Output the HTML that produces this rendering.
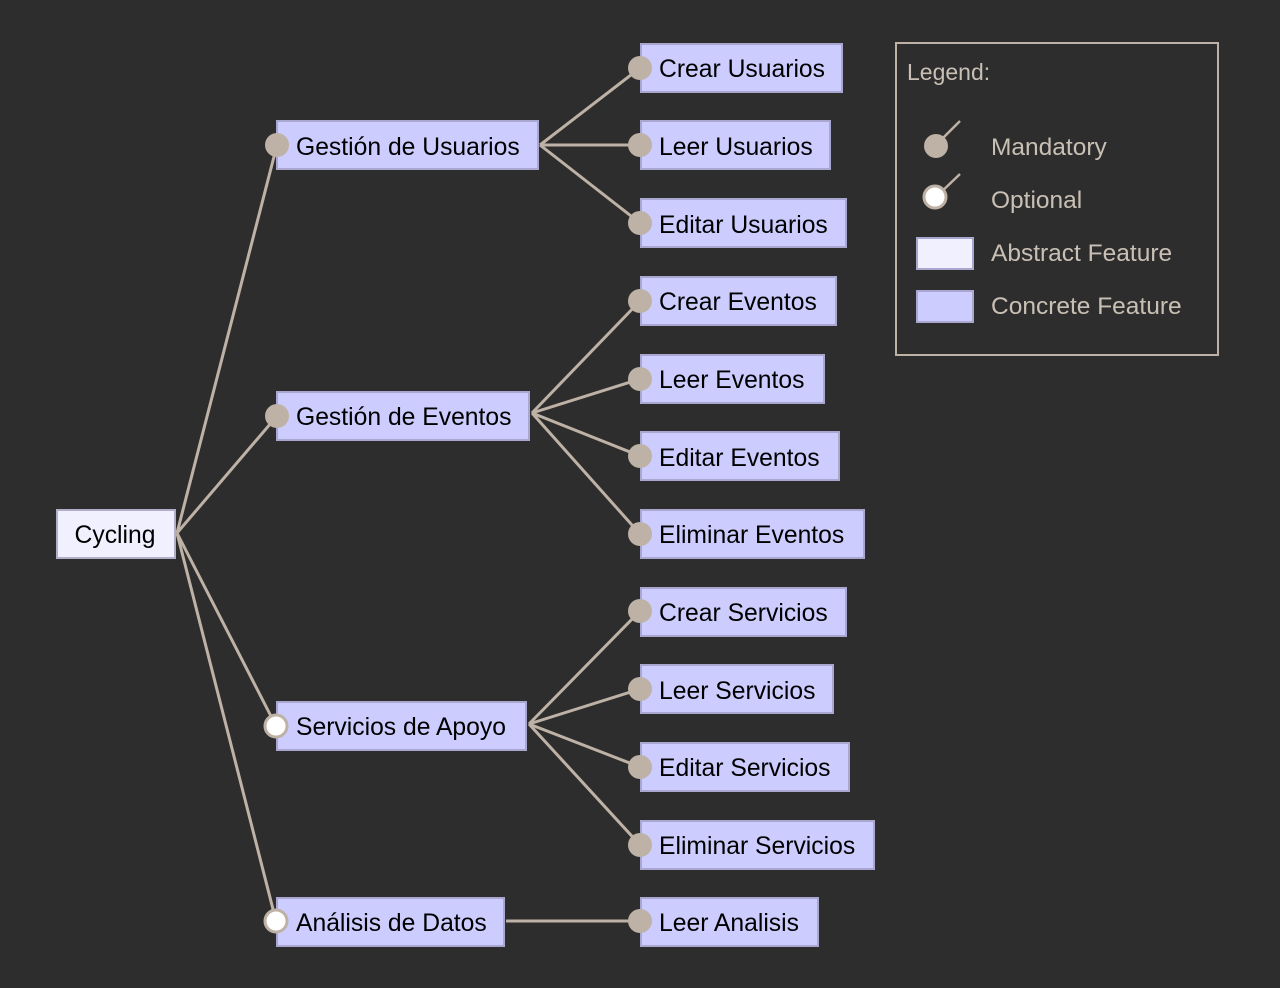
<!DOCTYPE html>
<html><head><meta charset="utf-8"><style>
html,body{margin:0;padding:0;background:#2e2d2d;}
svg{display:block}
text{font-family:"Liberation Sans",sans-serif;}
</style></head><body>
<svg width="1280" height="988" viewBox="0 0 1280 988">
<rect width="1280" height="988" fill="#2e2d2d"/>
<g stroke="#bdb2a5" stroke-width="3" fill="none">
<line x1="177" y1="533" x2="277" y2="145"/>
<line x1="177" y1="533" x2="277" y2="416"/>
<line x1="177" y1="533" x2="276" y2="726"/>
<line x1="177" y1="533" x2="276" y2="921"/>
<line x1="540" y1="145" x2="640" y2="68"/>
<line x1="540" y1="145" x2="640" y2="145"/>
<line x1="540" y1="145" x2="640" y2="223"/>
<line x1="532" y1="413" x2="640" y2="301"/>
<line x1="532" y1="413" x2="640" y2="379"/>
<line x1="532" y1="413" x2="640" y2="456"/>
<line x1="532" y1="413" x2="640" y2="534"/>
<line x1="529" y1="724" x2="640" y2="611"/>
<line x1="529" y1="724" x2="640" y2="689"/>
<line x1="529" y1="724" x2="640" y2="767"/>
<line x1="529" y1="724" x2="640" y2="845"/>
<line x1="506" y1="921" x2="640" y2="921"/>
</g>
<g stroke="#a9a6cf" stroke-width="2" fill="#ccccff">
<rect x="277" y="121" width="261" height="48"/>
<rect x="277" y="392" width="252" height="48"/>
<rect x="277" y="702" width="249" height="48"/>
<rect x="277" y="898" width="227" height="48"/>
<rect x="641" y="44" width="201" height="48"/>
<rect x="641" y="121" width="189" height="48"/>
<rect x="641" y="199" width="205" height="48"/>
<rect x="641" y="277" width="195" height="48"/>
<rect x="641" y="355" width="183" height="48"/>
<rect x="641" y="432" width="198" height="48"/>
<rect x="641" y="510" width="223" height="48"/>
<rect x="641" y="588" width="205" height="48"/>
<rect x="641" y="665" width="192" height="48"/>
<rect x="641" y="743" width="208" height="48"/>
<rect x="641" y="821" width="233" height="48"/>
<rect x="641" y="898" width="177" height="48"/>
</g>
<rect x="57" y="510" width="118" height="48" fill="#f0f0ff" stroke="#b0aec8" stroke-width="2"/>
<g fill="#bdb2a5">
<circle cx="277" cy="145" r="12"/><circle cx="277" cy="416" r="12"/>
<circle cx="640" cy="68" r="12"/><circle cx="640" cy="145" r="12"/><circle cx="640" cy="223" r="12"/>
<circle cx="640" cy="301" r="12"/><circle cx="640" cy="379" r="12"/><circle cx="640" cy="456" r="12"/><circle cx="640" cy="534" r="12"/>
<circle cx="640" cy="611" r="12"/><circle cx="640" cy="689" r="12"/><circle cx="640" cy="767" r="12"/><circle cx="640" cy="845" r="12"/>
<circle cx="640" cy="921" r="12"/>
</g>
<g fill="#ffffff" stroke="#bdb2a5" stroke-width="3">
<circle cx="276" cy="726" r="11"/><circle cx="276" cy="921" r="11"/>
</g>
<g font-size="24.7" fill="#000">
<text x="115" y="543" text-anchor="middle">Cycling</text>
<text x="296" y="155">Gestión de Usuarios</text>
<text x="296" y="425">Gestión de Eventos</text>
<text x="296" y="735">Servicios de Apoyo</text>
<text x="296" y="931">Análisis de Datos</text>
<text x="659" y="77">Crear Usuarios</text>
<text x="659" y="155">Leer Usuarios</text>
<text x="659" y="233">Editar Usuarios</text>
<text x="659" y="310">Crear Eventos</text>
<text x="659" y="388">Leer Eventos</text>
<text x="659" y="466">Editar Eventos</text>
<text x="659" y="543">Eliminar Eventos</text>
<text x="659" y="621">Crear Servicios</text>
<text x="659" y="699">Leer Servicios</text>
<text x="659" y="776">Editar Servicios</text>
<text x="659" y="854">Eliminar Servicios</text>
<text x="659" y="931">Leer Analisis</text>
</g>
<rect x="896" y="43" width="322" height="312" fill="none" stroke="#bdb2a5" stroke-width="2"/>
<g fill="#c9c0b5">
<text x="907" y="80" font-size="23">Legend:</text>
<text x="991" y="155" font-size="24.5">Mandatory</text>
<text x="991" y="208" font-size="24.5">Optional</text>
<text x="991" y="261" font-size="24.5">Abstract Feature</text>
<text x="991" y="314" font-size="24.5">Concrete Feature</text>
</g>
<g stroke="#bdb2a5" stroke-width="2.5">
<line x1="936" y1="145" x2="960" y2="121"/>
<line x1="936" y1="197" x2="960" y2="174"/>
</g>
<circle cx="936" cy="146" r="12" fill="#bdb2a5"/>
<circle cx="935" cy="197" r="11" fill="#ffffff" stroke="#bdb2a5" stroke-width="3"/>
<rect x="917" y="238" width="56" height="31" fill="#f0f0ff" stroke="#a9a6cf" stroke-width="2"/>
<rect x="917" y="291" width="56" height="31" fill="#ccccff" stroke="#a9a6cf" stroke-width="2"/>
</svg>
</body></html>
